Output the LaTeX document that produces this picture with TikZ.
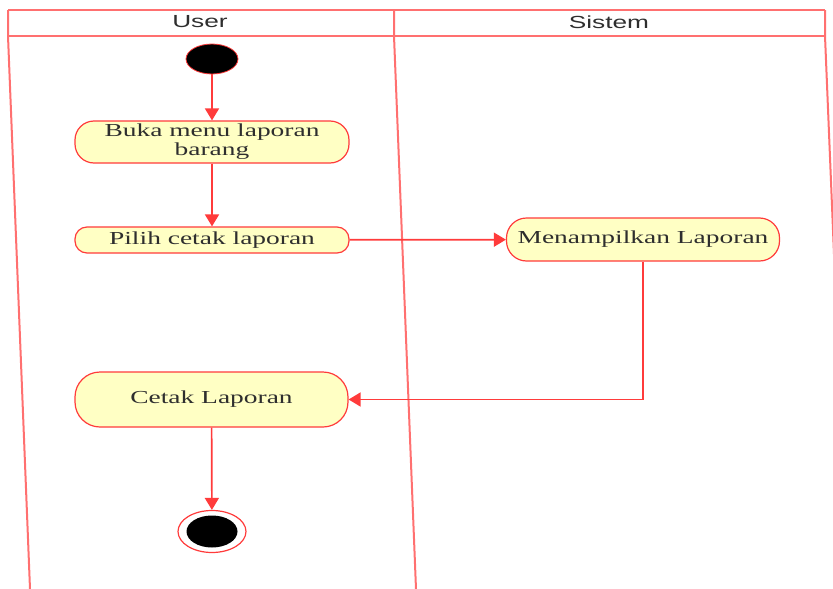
\documentclass[tikz,border=0pt]{standalone}
\usepackage{fontspec}
\usepackage{graphicx}
\setmainfont{Liberation Serif}
\newfontfamily\lanefont{Liberation Sans}
\usetikzlibrary{arrows.meta,shapes.geometric}
\definecolor{lane}{HTML}{FF7070}
\definecolor{flow}{HTML}{FF3B3B}
\definecolor{actfill}{HTML}{FFFFC4}
\definecolor{txt}{HTML}{2E2E2E}
\newcommand\wide[1]{\scalebox{1.5}[1]{#1}}
\tikzset{
  lanerule/.style={draw=lane, line width=2pt},
  action/.style={draw=flow, fill=actfill, line width=1.2pt, inner sep=0pt,
    font=\fontsize{18.3}{20}\selectfont, text=txt, align=center},
  flowline/.style={draw=flow, line width=1.7pt, -{Triangle[width=14pt,length=12pt]}},
  lanetitle/.style={font=\lanefont\fontsize{17.5}{18}\selectfont, text=txt},
}
\begin{document}
\begin{tikzpicture}[x=1pt,y=-1pt]
\useasboundingbox (0,0) rectangle (833,589);
\begin{scope}
\clip (0,0) rectangle (833,589);
% swimlane frame
\draw[lanerule] (8,10) -- (825,10);
\draw[lanerule] (8,36) -- (825,36);
\draw[lanerule] (8,10) -- (8,36) -- (30,589);
\draw[lanerule] (394,10) -- (394,36) -- (416,589);
\draw[lanerule] (825,10) -- (825,36) -- (840,400);
\end{scope}
\node[lanetitle] (ulane) at (200,22) {\wide{User}};
\node[lanetitle] (slane) at (609,22) {\wide{Sistem}};

% activities
\node[action, minimum width=274pt, minimum height=42pt, rounded corners=19pt]
  (buka) at (212,142) {\wide{\begin{tabular}{@{}c@{}}Buka menu laporan\\[-1pt]barang\end{tabular}}};
\node[action, minimum width=274pt, minimum height=26pt, rounded corners=12pt]
  (pilih) at (212,240) {\wide{Pilih cetak laporan}};
\node[action, minimum width=273pt, minimum height=43pt, rounded corners=20pt]
  (tampil) at (643,239.5) {\wide{Menampilkan Laporan}};
\node[action, minimum width=273pt, minimum height=55pt, rounded corners=25pt]
  (cetak) at (211.5,399.5) {\wide{Cetak Laporan}};

% initial and final nodes
\node[draw=flow, fill=black, line width=0.8pt, ellipse, minimum width=52pt, minimum height=30pt, inner sep=0pt]
  (start) at (212,59) {};
\node[draw=flow, fill=white, line width=1.2pt, ellipse, minimum width=68pt, minimum height=42pt, inner sep=0pt]
  (endring) at (212,531.5) {};
\node[fill=black, ellipse, minimum width=51pt, minimum height=32pt, inner sep=0pt]
  (enddot) at (212,531.5) {};

% control flow
\draw[flowline] (start) -- (buka);
\draw[flowline] (buka) -- (pilih);
\draw[flowline] (pilih) -- (tampil);
\draw[flowline] (tampil.south) |- (cetak.east);
\draw[flowline] (cetak) -- (endring);
\end{tikzpicture}
\end{document}
